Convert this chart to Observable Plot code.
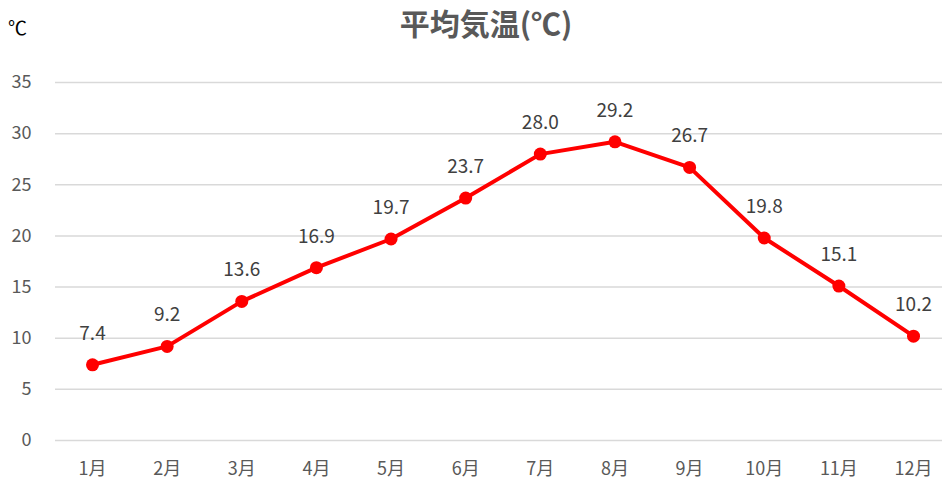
<!DOCTYPE html>
<html><head><meta charset="utf-8">
<script src="https://cdn.jsdelivr.net/npm/d3@7"></script>
<script src="https://cdn.jsdelivr.net/npm/@observablehq/plot@0.6"></script>
<style>
body{margin:0;background:#fff;font-family:"Noto Sans CJK JP","Noto Sans",sans-serif;}
#wrap{position:relative;width:942px;height:491px;}
#title{position:absolute;left:0;width:972px;top:0px;text-align:center;font-size:30px;font-weight:bold;color:#595959;line-height:44px;}
#unit{position:absolute;left:8px;top:13px;font-size:19px;color:#000;}
</style></head>
<body><div id="wrap"><div id="title">平均気温(℃)</div><div id="unit">℃</div></div>
<script>
const months = ["1月","2月","3月","4月","5月","6月","7月","8月","9月","10月","11月","12月"];
const temps = [7.4, 9.2, 13.6, 16.9, 19.7, 23.7, 28.0, 29.2, 26.7, 19.8, 15.1, 10.2];
const yTicks = [0, 5, 10, 15, 20, 25, 30, 35];
const data = months.map((m, i) => ({month: m, temp: temps[i]}));
const font = "'Noto Sans CJK JP', 'Noto Sans', sans-serif";
const chart = Plot.plot({
  width: 942, height: 491,
  marginLeft: 55, marginRight: 0, marginTop: 82, marginBottom: 51,
  style: {fontFamily: font, background: "transparent"},
  x: {type: "point", domain: months, range: [92, 913], padding: 0, round: false, label: null},
  y: {domain: [0, 35], range: [440, 82], label: null},
  marks: [
    Plot.ruleY(yTicks, {stroke: "#d9d9d9", strokeWidth: 1.5}),
    Plot.axisY({ticks: yTicks, tickSize: 0, tickPadding: 0, dx: -24, fontSize: 18, fill: "#595959", label: null, textAnchor: "end"}),
    Plot.axisX({tickSize: 0, tickPadding: 0, dy: 22, fontSize: 18, fill: "#595959", label: null}),
    Plot.line(data, {x: "month", y: "temp", stroke: "#ff0000", strokeWidth: 4}),
    Plot.dot(data, {x: "month", y: "temp", r: 6.5, fill: "#ff0000"}),
    Plot.text(data, {x: "month", y: "temp", text: d => d.temp.toFixed(1), dy: -31, fontSize: 19, fill: "#404040"})
  ]
});
chart.style.position = "absolute";
chart.style.left = "0";
chart.style.top = "0";
document.getElementById("wrap").prepend(chart);
</script></body></html>
